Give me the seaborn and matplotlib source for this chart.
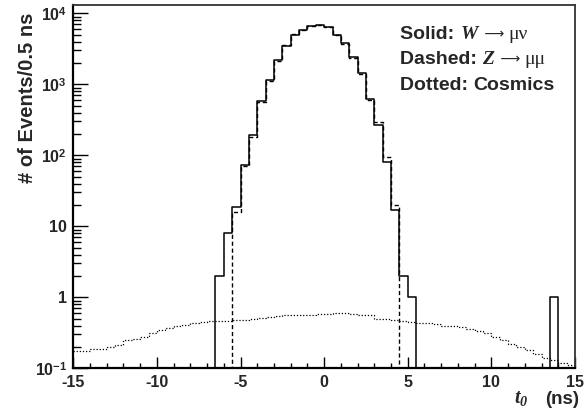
"""Arrival-time (t0) distribution: W, Z and cosmic-ray muons."""
import matplotlib
matplotlib.use("Agg")
import matplotlib.pyplot as plt
import numpy as np
import pandas as pd
import seaborn as sns
from matplotlib.ticker import FixedFormatter, FixedLocator, LogLocator, MultipleLocator, NullFormatter

# --- data: 0.5 ns bins over [-15, 15] --------------------------------------
bin_width = 0.5
t_lo, t_hi = -15.0, 15.0

# W -> mu nu (solid): first bin starts at -6.5 ns
w_first_bin = -6.5
w_counts = [2, 8, 19, 73, 193, 580, 1150, 2200, 3460, 4950, 5820, 6600,
            6800, 6330, 5030, 3780, 2400, 1430, 620, 267, 80, 17, 2, 1]
w_lone_bin = 13.5          # single stray event
w_lone_count = 1

# Z -> mu mu (dashed): first bin starts at -5.5 ns
z_first_bin = -5.5
z_counts = [16, 70, 182, 560, 1130, 2150, 3550, 5200, 5900, 6700, 6900,
            6400, 5000, 3700, 2350, 1400, 600, 292, 95, 20]

# cosmics (dotted), all 60 bins from -15 ns
cosmic_counts = [0.175, 0.175, 0.19, 0.19, 0.20, 0.21, 0.25, 0.26, 0.28, 0.31,
                 0.35, 0.37, 0.40, 0.41, 0.44, 0.45, 0.46, 0.46, 0.46, 0.48,
                 0.48, 0.49, 0.51, 0.53, 0.54, 0.555, 0.555, 0.56, 0.565, 0.58,
                 0.575, 0.60, 0.60, 0.58, 0.555, 0.555, 0.50, 0.50, 0.48, 0.465,
                 0.45, 0.44, 0.44, 0.42, 0.40, 0.39, 0.38, 0.36, 0.34, 0.31,
                 0.28, 0.25, 0.22, 0.20, 0.18, 0.16, 0.14, 0.13, 0.12, 0.11]

y_ticks = [0.1, 1, 10, 100, 1000, 10000]
y_ticklabels = ["10$^{-1}$", "1", "10", "10$^{2}$", "10$^{3}$", "10$^{4}$"]
x_ticks = [-15, -10, -5, 0, 5, 10, 15]

# legend lines: bold head, italic boson, decay products
legend_heads = ["Solid:", "Dashed:", "Dotted:"]
legend_bosons = ["$W$", "$Z$", None]
legend_products = ["μν", "μμ", "Cosmics"]


def _fill(first_bin, counts, n_bins):
    out = np.zeros(n_bins)
    i0 = int(round((first_bin - t_lo) / bin_width))
    out[i0:i0 + len(counts)] = counts
    return out


n_bins = int(round((t_hi - t_lo) / bin_width))
centers = t_lo + bin_width * (np.arange(n_bins) + 0.5)

w_full = _fill(w_first_bin, w_counts, n_bins)
w_full += _fill(w_lone_bin, [w_lone_count], n_bins)
z_full = _fill(z_first_bin, z_counts, n_bins)

df = pd.DataFrame({"t0": centers, "W": w_full, "Z": z_full,
                   "cosmics": cosmic_counts})

# --- style -----------------------------------------------------------------
sns.set_style("white")
SANS = ["Liberation Sans", "DejaVu Sans"]
SERIF = ["Liberation Serif", "DejaVu Serif"]
plt.rcParams["font.family"] = SANS
plt.rcParams["font.weight"] = "bold"
plt.rcParams["axes.unicode_minus"] = False
plt.rcParams["mathtext.fontset"] = "custom"
plt.rcParams["mathtext.rm"] = "Liberation Sans:bold"
plt.rcParams["mathtext.bf"] = "Liberation Sans:bold"
plt.rcParams["mathtext.it"] = "Liberation Serif:italic"
plt.rcParams["mathtext.sf"] = "Liberation Serif:bold:italic"

TITLE_FS = 14.5
LEGEND_FS = 14

fig = plt.figure(figsize=(5.86, 4.11), dpi=100)
ax = fig.add_axes([0.1251, 0.1039, 0.8561, 0.8839])

common = dict(x="t0", binwidth=bin_width, binrange=(t_lo, t_hi),
              element="step", fill=False, color="black", ax=ax, legend=False)
sns.histplot(data=df, weights="cosmics", linewidth=0.9,
             linestyle=(0, (1, 1.5)), **common)
sns.histplot(data=df, weights="Z", linewidth=1.0,
             linestyle=(0, (3, 2)), **common)
sns.histplot(data=df, weights="W", linewidth=1.1, **common)

ax.set_yscale("log")
ax.set_xlim(t_lo, t_hi)
ax.set_ylim(0.1, 13100)
ax.set_xlabel("")
ax.set_ylabel("")

ax.xaxis.set_major_locator(FixedLocator(x_ticks))
ax.xaxis.set_minor_locator(MultipleLocator(1))
ax.yaxis.set_major_locator(FixedLocator(y_ticks))
ax.yaxis.set_major_formatter(FixedFormatter(y_ticklabels))
ax.yaxis.set_minor_locator(LogLocator(base=10, subs=np.arange(2, 10)))
ax.yaxis.set_minor_formatter(NullFormatter())

ax.tick_params(axis="both", which="both", direction="in", width=1.0,
               color="black", labelsize=11.5, top=False, right=False,
               bottom=True, left=True)
ax.tick_params(axis="x", which="major", length=7.7, pad=4.5)
ax.tick_params(axis="x", which="minor", length=3.6)
ax.tick_params(axis="y", which="major", length=10.8, pad=4.5)
ax.tick_params(axis="y", which="minor", length=5.8)
for lab in ax.get_xticklabels() + ax.get_yticklabels():
    lab.set_fontweight("bold")

for side in ["left", "bottom"]:
    ax.spines[side].set_linewidth(1.6)
    ax.spines[side].set_color("black")
for side in ["top", "right"]:
    ax.spines[side].set_linewidth(1.3)
    ax.spines[side].set_color("#333333")

# axis titles
fig.text(33.5 / 586, 1 - 13 / 411, "# of Events/0.5 ns", rotation=90,
         rotation_mode="anchor", ha="right", va="baseline",
         fontsize=TITLE_FS, fontweight="bold")
fig.text(514 / 586, 1 - 403 / 411, r"$\mathsf{t_{0}}$", ha="left",
         va="baseline", fontsize=TITLE_FS)
fig.text(579 / 586, 1 - 404 / 411, "(ns)", ha="right", va="baseline",
         fontsize=13.5, fontweight="bold")

# legend-like annotation: pieces chained along one baseline
baselines = [39.0, 64.5, 90.0]
for head, boson, prod, yb in zip(legend_heads, legend_bosons,
                                 legend_products, baselines):
    yfig = 1 - yb / 411
    prev = fig.text(400 / 586, yfig, head + " ", ha="left", va="baseline",
                    fontsize=LEGEND_FS, fontweight="bold")
    if boson is None:
        ax.annotate(prod, xy=(1, yfig), xycoords=(prev, "figure fraction"),
                    ha="left", va="baseline", fontsize=LEGEND_FS,
                    fontweight="bold")
        continue
    prev = ax.annotate(boson, xy=(1, yfig), xycoords=(prev, "figure fraction"),
                       ha="left", va="baseline", fontsize=LEGEND_FS)
    prev = ax.annotate(" ⟶ ", xy=(1, yfig + 1.5 / 411),
                       xycoords=(prev, "figure fraction"),
                       ha="left", va="baseline", fontsize=10,
                       family=["DejaVu Sans"], fontweight="normal")
    ax.annotate(prod, xy=(1, yfig), xycoords=(prev, "figure fraction"),
                ha="left", va="baseline", fontsize=LEGEND_FS,
                family=SERIF, fontweight="normal")

fig.savefig("out.png", dpi=100)
